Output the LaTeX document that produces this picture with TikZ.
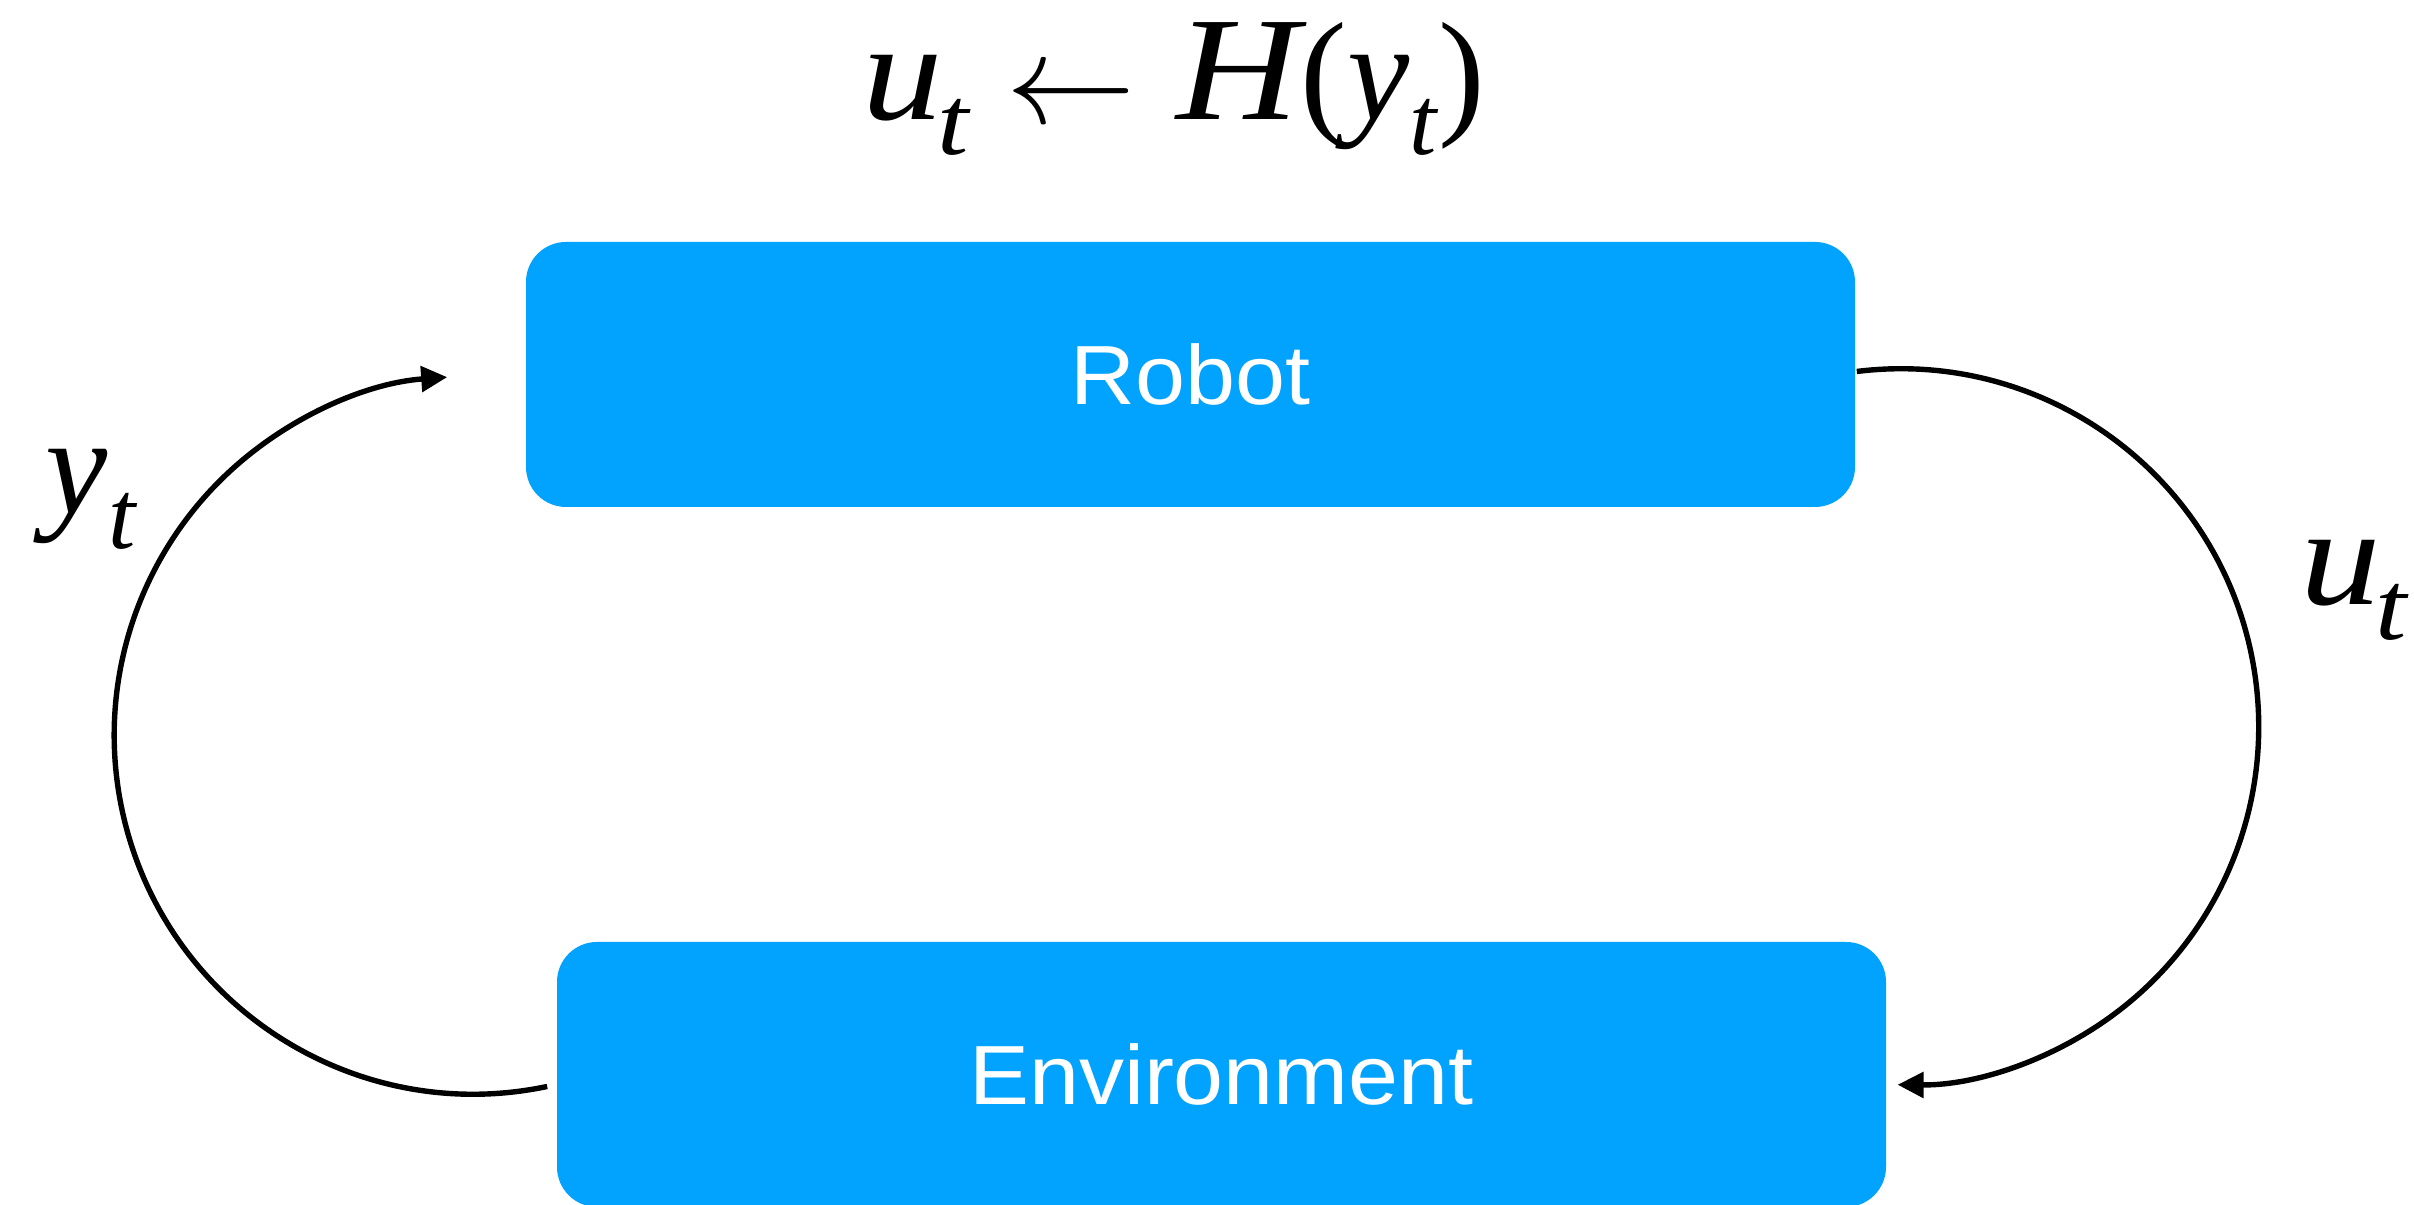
\documentclass[tikz,border=0pt]{standalone}
\usepackage{fontspec}
\usepackage{graphicx}
\setmainfont{Liberation Serif}
\newfontfamily\boxfont[FakeStretch=1.07]{Liberation Sans}
\newfontfamily\wideit[FakeStretch=1.15]{Liberation Serif}
\usetikzlibrary{arrows.meta}
\definecolor{keyblue}{HTML}{02A2FF}
\newcommand{\sigvar}[3][0pt]{\textit{#2}\kern#1\raisebox{-0.25em}{\fontsize{24.5}{24.5}\selectfont\textit{#3}}}

\begin{document}
\begin{tikzpicture}[x=0.25pt, y=0.25pt,
    blockBox/.style={rectangle, rounded corners=10pt, fill=keyblue, text=white, font=\boxfont\fontsize{21}{25}\selectfont, minimum width=332.25pt, minimum height=66.25pt, inner sep=0pt},
    sigLabel/.style={inner sep=0pt, anchor=base west, font=\fontsize{35}{42}\selectfont},
    loopArrow/.style={line width=1.35pt, -{Triangle[length=6.5pt, width=6.3pt]}}
]
    \useasboundingbox (0,0) rectangle (2414,1205);

    % Blocks
    \node[blockBox] (robot) at (1190.5,830.5) {Robot};
    \node[blockBox] (env) at (1221.5,130.5) {Environment};

    % Control law on top
    \node[sigLabel] (law) at (862,1085) {{\wideit\sigvar[-1.5pt]{u}{t}}\hspace{9pt}\raisebox{-1pt}{\fontsize{24.88}{24.88}\selectfont\scalebox{1.3}{$\leftarrow$}}\hspace{10pt}{\wideit\fontsize{37}{42}\selectfont\textit{H}}\kern-1.5pt(\sigvar{y}{t})};

    % Signals
    \node[sigLabel] (obs) at (45,691) {\sigvar{y}{t}};
    \node[sigLabel] (act) at (2300,600) {{\wideit\sigvar[-1.5pt]{u}{t}}};

    % Feedback loop
    \draw[loopArrow] ([shift={(-9,-12)}]env.west) arc[start angle=-78.1, end angle=-265.85, radius=359];
    \draw[loopArrow] ([shift={(1,3)}]robot.east) arc[start angle=97.05, end angle=-90.5, radius=358];
\end{tikzpicture}
\end{document}
